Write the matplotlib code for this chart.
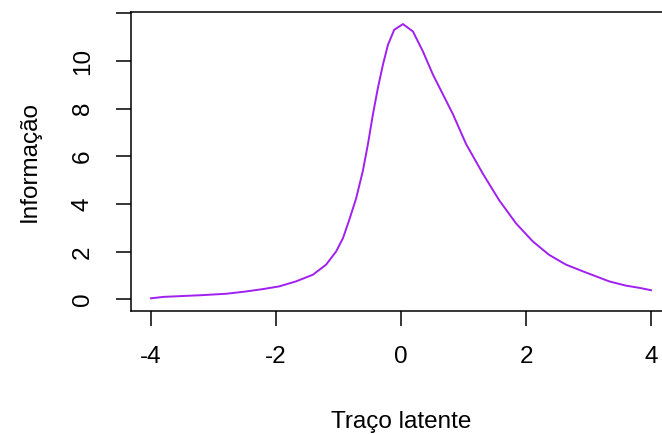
import matplotlib
matplotlib.use('Agg')
import matplotlib.pyplot as plt

# curva de informacao do teste
theta = [-4.0, -3.8, -3.2, -2.8, -2.5, -2.2, -1.95, -1.68, -1.41, -1.2,
         -1.04, -0.93, -0.83, -0.72, -0.61, -0.53, -0.45, -0.37, -0.29, -0.21,
         -0.11, 0.03, 0.19, 0.35, 0.51, 0.67, 0.83, 1.04, 1.31, 1.57,
         1.84, 2.11, 2.37, 2.64, 2.91, 3.17, 3.33, 3.6, 3.81, 4.0]
info = [0.05, 0.11, 0.18, 0.24, 0.33, 0.44, 0.55, 0.76, 1.04, 1.46,
        2.01, 2.57, 3.33, 4.23, 5.41, 6.52, 7.77, 8.88, 9.85, 10.68,
        11.31, 11.55, 11.24, 10.40, 9.43, 8.60, 7.77, 6.52, 5.27, 4.16,
        3.19, 2.43, 1.87, 1.46, 1.18, 0.92, 0.76, 0.58, 0.49, 0.39]

x_ticks = [-4, -2, 0, 2, 4]
y_ticks = [0, 2, 4, 6, 8, 10, 12]
y_tick_labels = ['0', '2', '4', '6', '8', '10', '']

plt.rcParams['font.family'] = ['Liberation Sans', 'DejaVu Sans']

fig = plt.figure(figsize=(6.62, 4.34), dpi=100)
# o grafico original esta recortado: a borda direita da caixa nao aparece
ax = fig.add_axes([0.198, 0.283, 0.802, 0.689])

ax.plot(theta, info, color='#A020F0', linewidth=1.4)

ax.set_xlim(-4.32, 4.175)
ax.set_ylim(-0.49, 12.05)
ax.set_xticks(x_ticks)
ax.set_xticklabels([str(v) for v in x_ticks])
ax.set_yticks(y_ticks)
ax.set_yticklabels(y_tick_labels, rotation=90, va='center')

for s in ax.spines.values():
    s.set_linewidth(1.1)
    s.set_color('black')
ax.spines['right'].set_visible(False)

ax.tick_params(axis='both', direction='out', length=10.8, width=1.1,
               labelsize=17.5, colors='black')
ax.tick_params(axis='x', pad=14)
ax.tick_params(axis='y', pad=16)

ax.set_xlabel('Traço latente', fontsize=17.5)
ax.xaxis.set_label_coords(0.5 * 8.64 / 8.495, -0.335)
ax.set_ylabel('Informação', fontsize=17.5)
ax.yaxis.set_label_coords(-0.171, 0.5)

fig.savefig('out.png', dpi=100)
